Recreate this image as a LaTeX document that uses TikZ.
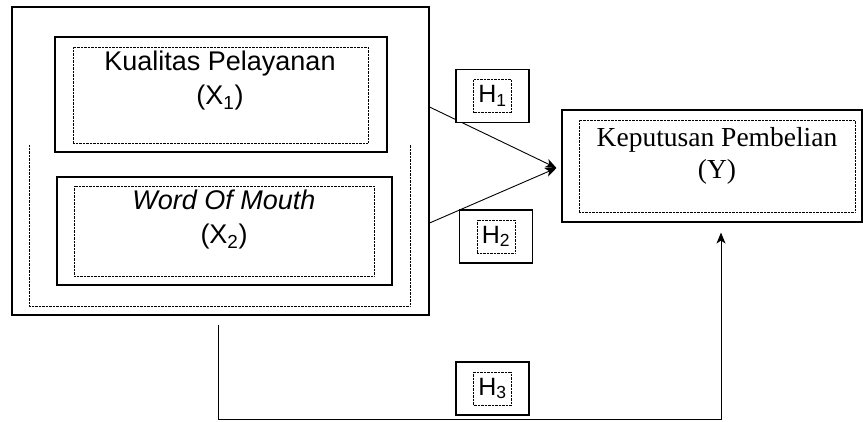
\documentclass[tikz,border=0pt]{standalone}
\usepackage{fontspec}
\setmainfont{Liberation Serif}
\newfontfamily\arialfont{Liberation Sans}
\usepackage{tikz}
\usetikzlibrary{arrows,arrows.meta,positioning}

\begin{document}
\begin{tikzpicture}[x=1pt,y=-1pt,
	box/.style={draw,line width=1.1pt,inner sep=0pt},
	dotbox/.style={draw,line width=0.7pt,dash pattern=on 0.7pt off 0.7pt,inner sep=0pt},
	hbox/.style={box,fill=white,minimum width=73pt,minimum height=53pt},
	hin/.style={dotbox,minimum width=38pt,minimum height=33pt,font=\arialfont\fontsize{25}{30}\selectfont},
	vartext/.style={align=center,inner sep=0pt,font=\arialfont\fontsize{27}{34}\selectfont},
	link/.style={line width=0.9pt,-{Stealth[length=11pt,width=9pt,inset=3pt]}}]
	\useasboundingbox (0,0) rectangle (863,421);

	% variabel bebas
	\node[box,minimum width=417pt,minimum height=308pt] (grp) at (220.5,161) {};
	\node[box,minimum width=332pt,minimum height=115pt] (xone) at (221,94.5) {};
	\node[dotbox,minimum width=295pt,minimum height=96pt] (xonein) at (220.5,95) {};
	\node[vartext] (txone) at (220,81) {Kualitas Pelayanan\\(X\textsubscript{1})};
	\draw[dotbox] (29,145) -- (29,306) -- (410,306) -- (410,144);
	\node[box,minimum width=335pt,minimum height=108pt] (xtwo) at (224.5,231) {};
	\node[dotbox,minimum width=300pt,minimum height=90pt] (xtwoin) at (224,231) {};
	\node[vartext] (txtwo) at (224,220) {\textit{Word Of Mouth}\\(X\textsubscript{2})};

	% variabel terikat
	\node[box,minimum width=300pt,minimum height=112pt] (kp) at (712,166) {};
	\node[dotbox,minimum width=276pt,minimum height=92pt] (kpin) at (717,166) {};
	\node[align=center,inner sep=0pt,font=\fontsize{27.5}{32}\selectfont] (txkp) at (717,156)
		{Keputusan Pembelian\\(Y)};

	% hubungan
	\coordinate (tip) at ([xshift=-5pt,yshift=-2pt]kp.west);
	\draw[link] ([yshift=54pt]grp.east) -- (tip);
	\draw[link] ([yshift=-62pt]grp.east) -- (tip);
	\coordinate (h3a) at (218,325);
	\coordinate (h3b) at ([yshift=-10pt]kp.south -| 721,0);
	\draw[link] (h3a) -- ++(0,94) -| (h3b);

	\foreach \Nodo/\Px/\Py in {1/492.5/96,2/496/236.5,3/492.5/388.5}
	{
		\node[hbox] (h\Nodo) at (\Px,\Py) {};
		\node[hin] (hin\Nodo) at (h\Nodo) {H\textsubscript{\Nodo}};
	}

\end{tikzpicture}
\end{document}
